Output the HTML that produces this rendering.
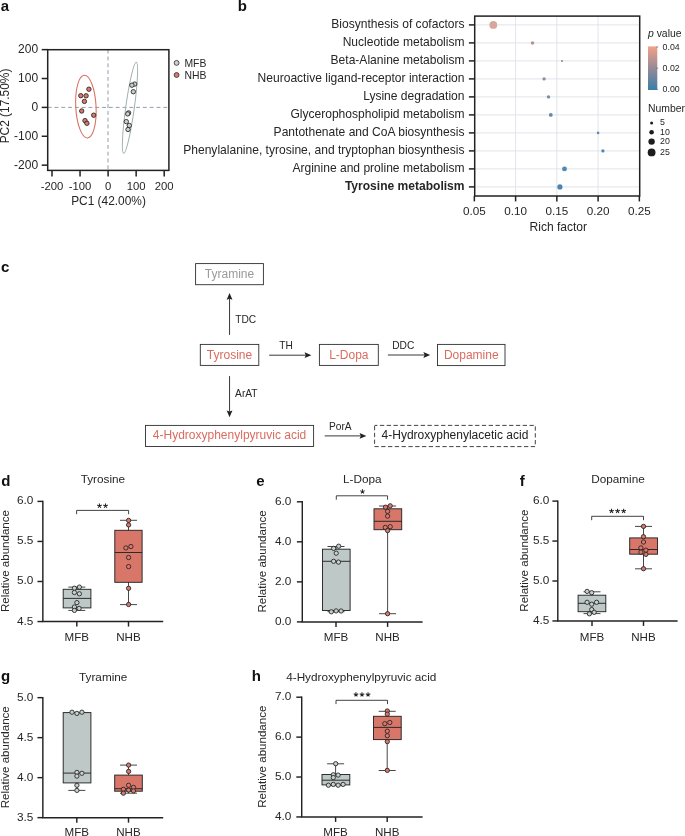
<!DOCTYPE html>
<html lang="en"><head><meta charset="utf-8"><title>Figure</title>
<style>
html,body{margin:0;padding:0;background:#fff;}
body{width:685px;height:836px;overflow:hidden;}
svg{display:block;will-change:transform;}
svg text{font-family:"Liberation Sans",sans-serif;}
</style></head>
<body>
<svg width="685" height="836" viewBox="0 0 685 836">
<text x="0.7" y="10.65" font-size="15" font-weight="bold" fill="#111">a</text>
<text x="237.75" y="10.65" font-size="15" font-weight="bold" fill="#111">b</text>
<text x="0.9" y="272.1" font-size="15" font-weight="bold" fill="#111">c</text>
<text x="1.35" y="486.1" font-size="15" font-weight="bold" fill="#111">d</text>
<text x="256.3" y="486.0" font-size="15" font-weight="bold" fill="#111">e</text>
<text x="519.85" y="485.9" font-size="15" font-weight="bold" fill="#111">f</text>
<text x="1.1" y="681.0" font-size="15" font-weight="bold" fill="#111">g</text>
<text x="251.85" y="681.0" font-size="15" font-weight="bold" fill="#111">h</text>
<line x1="47.7" y1="107.4" x2="168.9" y2="107.4" stroke="#808d9a" stroke-width="0.85" stroke-dasharray="3.9 2.9"/>
<line x1="108.0" y1="49.7" x2="108.0" y2="170.4" stroke="#808d9a" stroke-width="0.85" stroke-dasharray="3.9 2.9"/>
<ellipse cx="85.9" cy="106.6" rx="10.15" ry="31.4" transform="rotate(-3 85.9 106.6)" fill="none" stroke="#d8705f" stroke-width="1.05"/>
<ellipse cx="130.0" cy="107.8" rx="4.3" ry="46.0" transform="rotate(7.9 130 107.8)" fill="none" stroke="#a2b1ae" stroke-width="1.0"/>
<circle cx="88.9" cy="89.2" r="2.2" fill="#dc786b" stroke="#222222" stroke-width="0.85"/>
<circle cx="80.8" cy="95.7" r="2.2" fill="#dc786b" stroke="#222222" stroke-width="0.85"/>
<circle cx="86.1" cy="95.8" r="2.2" fill="#dc786b" stroke="#222222" stroke-width="0.85"/>
<circle cx="84.4" cy="101.4" r="2.2" fill="#dc786b" stroke="#222222" stroke-width="0.85"/>
<circle cx="81.7" cy="111.0" r="2.2" fill="#dc786b" stroke="#222222" stroke-width="0.85"/>
<circle cx="93.7" cy="115.2" r="2.2" fill="#dc786b" stroke="#222222" stroke-width="0.85"/>
<circle cx="85.0" cy="120.6" r="2.2" fill="#dc786b" stroke="#222222" stroke-width="0.85"/>
<circle cx="86.9" cy="123.3" r="2.2" fill="#dc786b" stroke="#222222" stroke-width="0.85"/>
<circle cx="134.7" cy="84.1" r="2.2" fill="#c6d0ce" stroke="#222222" stroke-width="0.85"/>
<circle cx="131.9" cy="85.2" r="2.2" fill="#c6d0ce" stroke="#222222" stroke-width="0.85"/>
<circle cx="133.3" cy="91.7" r="2.2" fill="#c6d0ce" stroke="#222222" stroke-width="0.85"/>
<circle cx="128.6" cy="112.9" r="2.2" fill="#c6d0ce" stroke="#222222" stroke-width="0.85"/>
<circle cx="127.7" cy="113.9" r="2.2" fill="#c6d0ce" stroke="#222222" stroke-width="0.85"/>
<circle cx="126.3" cy="121.6" r="2.2" fill="#c6d0ce" stroke="#222222" stroke-width="0.85"/>
<circle cx="129.3" cy="125.5" r="2.2" fill="#c6d0ce" stroke="#222222" stroke-width="0.85"/>
<circle cx="128.0" cy="129.5" r="2.2" fill="#c6d0ce" stroke="#222222" stroke-width="0.85"/>
<rect x="47.7" y="49.7" width="121.2" height="120.7" fill="none" stroke="#222222" stroke-width="1.5"/>
<line x1="41.7" y1="49.64000000000001" x2="47.7" y2="49.64000000000001" stroke="#222222" stroke-width="1.5"/>
<text x="38.1" y="52.9" font-size="12.0" text-anchor="end" fill="#262626">200</text>
<line x1="164.2" y1="170.4" x2="164.2" y2="176.4" stroke="#222222" stroke-width="1.5"/>
<text x="164.2" y="189.9" font-size="11.3" text-anchor="middle" fill="#262626">200</text>
<line x1="41.7" y1="78.52000000000001" x2="47.7" y2="78.52000000000001" stroke="#222222" stroke-width="1.5"/>
<text x="38.1" y="81.8" font-size="12.0" text-anchor="end" fill="#262626">100</text>
<line x1="136.15" y1="170.4" x2="136.15" y2="176.4" stroke="#222222" stroke-width="1.5"/>
<text x="136.2" y="189.9" font-size="11.3" text-anchor="middle" fill="#262626">100</text>
<line x1="41.7" y1="107.4" x2="47.7" y2="107.4" stroke="#222222" stroke-width="1.5"/>
<text x="38.1" y="110.7" font-size="12.0" text-anchor="end" fill="#262626">0</text>
<line x1="108.1" y1="170.4" x2="108.1" y2="176.4" stroke="#222222" stroke-width="1.5"/>
<text x="108.1" y="189.9" font-size="11.3" text-anchor="middle" fill="#262626">0</text>
<line x1="41.7" y1="136.28" x2="47.7" y2="136.28" stroke="#222222" stroke-width="1.5"/>
<text x="38.1" y="139.6" font-size="12.0" text-anchor="end" fill="#262626">-100</text>
<line x1="80.04999999999998" y1="170.4" x2="80.04999999999998" y2="176.4" stroke="#222222" stroke-width="1.5"/>
<text x="80.0" y="189.9" font-size="11.3" text-anchor="middle" fill="#262626">-100</text>
<line x1="41.7" y1="165.16" x2="47.7" y2="165.16" stroke="#222222" stroke-width="1.5"/>
<text x="38.1" y="168.5" font-size="12.0" text-anchor="end" fill="#262626">-200</text>
<line x1="51.999999999999986" y1="170.4" x2="51.999999999999986" y2="176.4" stroke="#222222" stroke-width="1.5"/>
<text x="52.0" y="189.9" font-size="11.3" text-anchor="middle" fill="#262626">-200</text>
<text x="108.5" y="205.3" font-size="11.9" text-anchor="middle" fill="#262626">PC1 (42.00%)</text>
<text x="9.2" y="106.0" font-size="11.9" text-anchor="middle" transform="rotate(-90 9.2 106.0)" fill="#262626">PC2 (17.50%)</text>
<circle cx="176.6" cy="62.9" r="2.45" fill="#c6d0ce" stroke="#222222" stroke-width="0.75"/>
<circle cx="176.6" cy="75.0" r="2.45" fill="#dc786b" stroke="#222222" stroke-width="0.75"/>
<text x="184.4" y="66.6" font-size="10.4" fill="#262626">MFB</text>
<text x="184.4" y="78.7" font-size="10.4" fill="#262626">NHB</text>
<line x1="474.7" y1="24.9" x2="639.7" y2="24.9" stroke="#e7e9ed" stroke-width="1.15"/>
<line x1="474.7" y1="42.9" x2="639.7" y2="42.9" stroke="#e7e9ed" stroke-width="1.15"/>
<line x1="474.7" y1="60.9" x2="639.7" y2="60.9" stroke="#e7e9ed" stroke-width="1.15"/>
<line x1="474.7" y1="78.9" x2="639.7" y2="78.9" stroke="#e7e9ed" stroke-width="1.15"/>
<line x1="474.7" y1="96.9" x2="639.7" y2="96.9" stroke="#e7e9ed" stroke-width="1.15"/>
<line x1="474.7" y1="114.9" x2="639.7" y2="114.9" stroke="#e7e9ed" stroke-width="1.15"/>
<line x1="474.7" y1="132.9" x2="639.7" y2="132.9" stroke="#e7e9ed" stroke-width="1.15"/>
<line x1="474.7" y1="150.9" x2="639.7" y2="150.9" stroke="#e7e9ed" stroke-width="1.15"/>
<line x1="474.7" y1="168.9" x2="639.7" y2="168.9" stroke="#e7e9ed" stroke-width="1.15"/>
<line x1="474.7" y1="186.9" x2="639.7" y2="186.9" stroke="#e7e9ed" stroke-width="1.15"/>
<line x1="515.6" y1="16.1" x2="515.6" y2="196.0" stroke="#dadde4" stroke-width="0.8"/>
<line x1="556.85" y1="16.1" x2="556.85" y2="196.0" stroke="#dadde4" stroke-width="0.8"/>
<line x1="598.1" y1="16.1" x2="598.1" y2="196.0" stroke="#dadde4" stroke-width="0.8"/>
<circle cx="493.3" cy="24.9" r="3.9" fill="#d8a79b"/>
<circle cx="532.5" cy="42.9" r="1.75" fill="#b8928c"/>
<circle cx="562.0" cy="60.9" r="1.0" fill="#9a8088"/>
<circle cx="544.1" cy="78.9" r="1.7" fill="#8a8fa6"/>
<circle cx="548.5" cy="96.9" r="1.7" fill="#7b8aa5"/>
<circle cx="550.8" cy="114.9" r="1.9" fill="#6888a8"/>
<circle cx="598.1" cy="132.9" r="1.3" fill="#5a8cb5"/>
<circle cx="602.9" cy="150.9" r="1.6" fill="#4c88b3"/>
<circle cx="564.5" cy="168.9" r="2.45" fill="#5088ae"/>
<circle cx="559.9" cy="186.9" r="2.6" fill="#4c85aa"/>
<rect x="474.7" y="16.1" width="165.00000000000006" height="179.9" fill="none" stroke="#222222" stroke-width="1.5"/>
<line x1="468.9" y1="24.9" x2="474.7" y2="24.9" stroke="#222222" stroke-width="1.5"/>
<text x="464.5" y="28.35" font-size="12.05" text-anchor="end" fill="#262626">Biosynthesis of cofactors</text>
<line x1="468.9" y1="42.9" x2="474.7" y2="42.9" stroke="#222222" stroke-width="1.5"/>
<text x="464.5" y="46.35" font-size="12.05" text-anchor="end" fill="#262626">Nucleotide metabolism</text>
<line x1="468.9" y1="60.9" x2="474.7" y2="60.9" stroke="#222222" stroke-width="1.5"/>
<text x="464.5" y="64.35" font-size="12.05" text-anchor="end" fill="#262626">Beta-Alanine metabolism</text>
<line x1="468.9" y1="78.9" x2="474.7" y2="78.9" stroke="#222222" stroke-width="1.5"/>
<text x="464.5" y="82.35" font-size="12.05" text-anchor="end" fill="#262626">Neuroactive ligand-receptor interaction</text>
<line x1="468.9" y1="96.9" x2="474.7" y2="96.9" stroke="#222222" stroke-width="1.5"/>
<text x="464.5" y="100.35" font-size="12.05" text-anchor="end" fill="#262626">Lysine degradation</text>
<line x1="468.9" y1="114.9" x2="474.7" y2="114.9" stroke="#222222" stroke-width="1.5"/>
<text x="464.5" y="118.35" font-size="12.05" text-anchor="end" fill="#262626">Glycerophospholipid metabolism</text>
<line x1="468.9" y1="132.9" x2="474.7" y2="132.9" stroke="#222222" stroke-width="1.5"/>
<text x="464.5" y="136.35" font-size="12.05" text-anchor="end" fill="#262626">Pantothenate and CoA biosynthesis</text>
<line x1="468.9" y1="150.9" x2="474.7" y2="150.9" stroke="#222222" stroke-width="1.5"/>
<text x="464.5" y="154.35" font-size="12.05" text-anchor="end" fill="#262626">Phenylalanine, tyrosine, and tryptophan biosynthesis</text>
<line x1="468.9" y1="168.9" x2="474.7" y2="168.9" stroke="#222222" stroke-width="1.5"/>
<text x="464.5" y="172.35" font-size="12.05" text-anchor="end" fill="#262626">Arginine and proline metabolism</text>
<line x1="468.9" y1="186.9" x2="474.7" y2="186.9" stroke="#222222" stroke-width="1.5"/>
<text x="464.5" y="190.35" font-size="12.05" text-anchor="end" font-weight="bold" fill="#262626">Tyrosine metabolism</text>
<line x1="474.35" y1="196.0" x2="474.35" y2="201.4" stroke="#222222" stroke-width="1.5"/>
<text x="474.35" y="214.8" font-size="11.7" text-anchor="middle" fill="#262626">0.05</text>
<line x1="515.6" y1="196.0" x2="515.6" y2="201.4" stroke="#222222" stroke-width="1.5"/>
<text x="515.6" y="214.8" font-size="11.7" text-anchor="middle" fill="#262626">0.10</text>
<line x1="556.85" y1="196.0" x2="556.85" y2="201.4" stroke="#222222" stroke-width="1.5"/>
<text x="556.85" y="214.8" font-size="11.7" text-anchor="middle" fill="#262626">0.15</text>
<line x1="598.1" y1="196.0" x2="598.1" y2="201.4" stroke="#222222" stroke-width="1.5"/>
<text x="598.1" y="214.8" font-size="11.7" text-anchor="middle" fill="#262626">0.20</text>
<line x1="639.35" y1="196.0" x2="639.35" y2="201.4" stroke="#222222" stroke-width="1.5"/>
<text x="639.35" y="214.8" font-size="11.7" text-anchor="middle" fill="#262626">0.25</text>
<text x="558.3" y="230.9" font-size="12.05" text-anchor="middle" fill="#262626">Rich factor</text>
<defs><linearGradient id="pg" x1="0" y1="0" x2="0" y2="1"><stop offset="0" stop-color="#f3a189"/><stop offset="0.5" stop-color="#968a97"/><stop offset="1" stop-color="#3a7ea8"/></linearGradient></defs>
<text x="648" y="36.5" font-size="10.4" fill="#262626"><tspan font-style="italic">p</tspan> value</text>
<rect x="648" y="46.4" width="9.3" height="43.6" fill="url(#pg)"/>
<line x1="656.3" y1="47.0" x2="658.3" y2="47.0" stroke="#555" stroke-width="0.6"/>
<text x="662.6" y="49.9" font-size="8.8" fill="#262626">0.04</text>
<line x1="656.3" y1="68.2" x2="658.3" y2="68.2" stroke="#555" stroke-width="0.6"/>
<text x="662.6" y="71.1" font-size="8.8" fill="#262626">0.02</text>
<line x1="656.3" y1="89.4" x2="658.3" y2="89.4" stroke="#3a7ea8" stroke-width="0.6"/>
<text x="662.6" y="92.3" font-size="8.8" fill="#262626">0.00</text>
<text x="648" y="111.6" font-size="10.4" fill="#262626">Number</text>
<circle cx="651.6" cy="122.9" r="1.5" fill="#1c1c1c"/>
<text x="660.0" y="125.3" font-size="8.8" fill="#262626">5</text>
<circle cx="651.6" cy="132.3" r="2.3" fill="#1c1c1c"/>
<text x="660.0" y="134.7" font-size="8.8" fill="#262626">10</text>
<circle cx="651.6" cy="141.6" r="3.2" fill="#1c1c1c"/>
<text x="660.0" y="144.0" font-size="8.8" fill="#262626">20</text>
<circle cx="651.6" cy="152.4" r="3.9" fill="#1c1c1c"/>
<text x="660.0" y="154.8" font-size="8.8" fill="#262626">25</text>
<rect x="195.6" y="263.6" width="67.8" height="21.1" fill="#fff" stroke="#2e2e2e" stroke-width="0.9"/>
<text x="229.5" y="278.4" font-size="12" text-anchor="middle" fill="#9a9a9a">Tyramine</text>
<rect x="200.3" y="344.4" width="58.5" height="21.0" fill="#fff" stroke="#2e2e2e" stroke-width="0.9"/>
<text x="229.55" y="358.5" font-size="12" text-anchor="middle" fill="#d96c5f">Tyrosine</text>
<rect x="319.4" y="344.4" width="58.9" height="21.0" fill="#fff" stroke="#2e2e2e" stroke-width="0.9"/>
<text x="348.85" y="358.5" font-size="12" text-anchor="middle" fill="#d96c5f">L-Dopa</text>
<rect x="437.5" y="344.4" width="67.5" height="21.2" fill="#fff" stroke="#2e2e2e" stroke-width="0.9"/>
<text x="471.25" y="358.5" font-size="12" text-anchor="middle" fill="#d96c5f">Dopamine</text>
<rect x="145.5" y="425.4" width="168.1" height="21.1" fill="#fff" stroke="#2e2e2e" stroke-width="0.9"/>
<text x="229.55" y="438.8" font-size="12" text-anchor="middle" fill="#d96c5f">4-Hydroxyphenylpyruvic acid</text>
<rect x="374.6" y="425.4" width="160.7" height="21.2" fill="#fff" stroke="#2e2e2e" stroke-width="0.9" stroke-dasharray="4.3 2.5" stroke-dashoffset="1.5"/>
<text x="454.95" y="438.8" font-size="12" text-anchor="middle" fill="#222">4-Hydroxyphenylacetic acid</text>
<line x1="229.55" y1="334.9" x2="229.55" y2="298.7" stroke="#222" stroke-width="0.9"/>
<polygon points="229.55,293.0 232.45,299.8 229.55,298.7 226.65,299.8" fill="#222"/>
<line x1="229.55" y1="376.1" x2="229.55" y2="411.6" stroke="#222" stroke-width="0.9"/>
<polygon points="229.55,417.3 226.65,410.5 229.55,411.6 232.45,410.5" fill="#222"/>
<line x1="269.2" y1="355.2" x2="305.7" y2="355.2" stroke="#222" stroke-width="0.9"/>
<polygon points="311.4,355.2 304.6,358.1 305.7,355.2 304.6,352.3" fill="#222"/>
<line x1="387.9" y1="355.0" x2="424.5" y2="355.0" stroke="#222" stroke-width="0.9"/>
<polygon points="430.2,355.0 423.4,357.9 424.5,355.0 423.4,352.1" fill="#222"/>
<line x1="324.7" y1="435.9" x2="360.7" y2="435.9" stroke="#222" stroke-width="0.9"/>
<polygon points="366.4,435.9 359.6,438.8 360.7,435.9 359.6,433.0" fill="#222"/>
<text x="235.2" y="322.7" font-size="10.2" fill="#262626">TDC</text>
<text x="235.1" y="396.8" font-size="10.2" fill="#262626">ArAT</text>
<text x="279.2" y="349.0" font-size="10.2" fill="#262626">TH</text>
<text x="392.2" y="349.0" font-size="10.2" fill="#262626">DDC</text>
<text x="329.0" y="429.8" font-size="10.2" fill="#262626">PorA</text>
<line x1="42.85" y1="500.67" x2="42.85" y2="621.55" stroke="#222222" stroke-width="1.45"/>
<line x1="42.12" y1="621.55" x2="163.2" y2="621.55" stroke="#222222" stroke-width="1.45"/>
<line x1="37.45" y1="501.4" x2="42.85" y2="501.4" stroke="#222222" stroke-width="1.45"/>
<text x="33.3" y="504.35" font-size="11.8" text-anchor="end" fill="#262626">6.0</text>
<line x1="37.45" y1="541.45" x2="42.85" y2="541.45" stroke="#222222" stroke-width="1.45"/>
<text x="33.3" y="544.4" font-size="11.8" text-anchor="end" fill="#262626">5.5</text>
<line x1="37.45" y1="581.5" x2="42.85" y2="581.5" stroke="#222222" stroke-width="1.45"/>
<text x="33.3" y="584.45" font-size="11.8" text-anchor="end" fill="#262626">5.0</text>
<line x1="37.45" y1="621.55" x2="42.85" y2="621.55" stroke="#222222" stroke-width="1.45"/>
<text x="33.3" y="624.5" font-size="11.8" text-anchor="end" fill="#262626">4.5</text>
<line x1="76.8" y1="621.55" x2="76.8" y2="626.55" stroke="#222222" stroke-width="1.45"/>
<text x="76.8" y="641.3" font-size="11.6" text-anchor="middle" fill="#262626">MFB</text>
<line x1="128.5" y1="621.55" x2="128.5" y2="626.55" stroke="#222222" stroke-width="1.45"/>
<text x="128.5" y="641.3" font-size="11.6" text-anchor="middle" fill="#262626">NHB</text>
<text x="9.45" y="561.07" font-size="11.55" text-anchor="middle" transform="rotate(-90 9.45 561.07)" fill="#262626">Relative abundance</text>
<text x="102.9" y="482.9" font-size="11.75" text-anchor="middle" fill="#262626">Tyrosine</text>
<line x1="76.8" y1="587.1" x2="76.8" y2="610.4" stroke="#262626" stroke-width="0.85"/>
<line x1="68.3" y1="587.1" x2="85.3" y2="587.1" stroke="#262626" stroke-width="0.85"/>
<line x1="68.3" y1="610.4" x2="85.3" y2="610.4" stroke="#262626" stroke-width="0.85"/>
<rect x="63.2" y="589.3" width="27.7" height="18.6" fill="#bec8c6" stroke="#262626" stroke-width="0.95"/>
<line x1="63.2" y1="598.4" x2="90.9" y2="598.4" stroke="#262626" stroke-width="0.95"/>
<circle cx="74.4" cy="588.2" r="2.15" fill="#c6d0ce" stroke="#262626" stroke-width="0.88"/>
<circle cx="79.4" cy="587.1" r="2.15" fill="#c6d0ce" stroke="#262626" stroke-width="0.88"/>
<circle cx="74.4" cy="592.5" r="2.15" fill="#c6d0ce" stroke="#262626" stroke-width="0.88"/>
<circle cx="79.4" cy="593.8" r="2.15" fill="#c6d0ce" stroke="#262626" stroke-width="0.88"/>
<circle cx="76.9" cy="602.6" r="2.15" fill="#c6d0ce" stroke="#262626" stroke-width="0.88"/>
<circle cx="74.4" cy="607.0" r="2.15" fill="#c6d0ce" stroke="#262626" stroke-width="0.88"/>
<circle cx="79.1" cy="608.4" r="2.15" fill="#c6d0ce" stroke="#262626" stroke-width="0.88"/>
<circle cx="74.4" cy="610.4" r="2.15" fill="#c6d0ce" stroke="#262626" stroke-width="0.88"/>
<line x1="128.5" y1="520.3" x2="128.5" y2="604.6" stroke="#262626" stroke-width="0.85"/>
<line x1="120.0" y1="520.3" x2="137.0" y2="520.3" stroke="#262626" stroke-width="0.85"/>
<line x1="120.0" y1="604.6" x2="137.0" y2="604.6" stroke="#262626" stroke-width="0.85"/>
<rect x="114.8" y="530.3" width="27.3" height="52.0" fill="#d8766a" stroke="#262626" stroke-width="0.95"/>
<line x1="114.8" y1="552.5" x2="142.1" y2="552.5" stroke="#262626" stroke-width="0.95"/>
<circle cx="128.6" cy="520.4" r="2.15" fill="#dc786b" stroke="#262626" stroke-width="0.88"/>
<circle cx="128.6" cy="524.9" r="2.15" fill="#dc786b" stroke="#262626" stroke-width="0.88"/>
<circle cx="125.9" cy="547.9" r="2.15" fill="#dc786b" stroke="#262626" stroke-width="0.88"/>
<circle cx="130.9" cy="546.5" r="2.15" fill="#dc786b" stroke="#262626" stroke-width="0.88"/>
<circle cx="128.6" cy="557.5" r="2.15" fill="#dc786b" stroke="#262626" stroke-width="0.88"/>
<circle cx="128.6" cy="566.6" r="2.15" fill="#dc786b" stroke="#262626" stroke-width="0.88"/>
<circle cx="128.6" cy="588.3" r="2.15" fill="#dc786b" stroke="#262626" stroke-width="0.88"/>
<circle cx="128.6" cy="604.5" r="2.15" fill="#dc786b" stroke="#262626" stroke-width="0.88"/>
<polyline points="76.6,514.2 76.6,510.4 128.6,510.4 128.6,514.2" fill="none" stroke="#2e2e2e" stroke-width="0.9"/>
<path d="M99.15,505.95 L98.89,503.5 L100.05,503.5 L99.79,505.95Z M99.28,505.58 L101.53,504.57 L101.88,505.68 L99.47,506.19Z M99.67,505.58 L101.32,507.41 L100.38,508.09 L99.15,505.96Z M99.79,505.96 L98.56,508.09 L97.62,507.41 L99.27,505.58Z M99.47,506.19 L97.06,505.68 L97.41,504.57 L99.66,505.58Z" fill="#222"/>
<circle cx="99.47" cy="505.85" r="0.8" fill="#222"/>
<path d="M105.21,505.95 L104.95,503.5 L106.11,503.5 L105.85,505.95Z M105.34,505.58 L107.59,504.57 L107.94,505.68 L105.53,506.19Z M105.73,505.58 L107.38,507.41 L106.44,508.09 L105.21,505.96Z M105.85,505.96 L104.62,508.09 L103.68,507.41 L105.33,505.58Z M105.53,506.19 L103.12,505.68 L103.47,504.57 L105.72,505.58Z" fill="#222"/>
<circle cx="105.53" cy="505.85" r="0.8" fill="#222"/>
<line x1="302.3" y1="501.07" x2="302.3" y2="621.9" stroke="#222222" stroke-width="1.45"/>
<line x1="301.57" y1="621.9" x2="422.6" y2="621.9" stroke="#222222" stroke-width="1.45"/>
<line x1="296.9" y1="501.8" x2="302.3" y2="501.8" stroke="#222222" stroke-width="1.45"/>
<text x="291.35" y="504.75" font-size="11.8" text-anchor="end" fill="#262626">6.0</text>
<line x1="296.9" y1="541.83" x2="302.3" y2="541.83" stroke="#222222" stroke-width="1.45"/>
<text x="291.35" y="544.78" font-size="11.8" text-anchor="end" fill="#262626">4.0</text>
<line x1="296.9" y1="581.87" x2="302.3" y2="581.87" stroke="#222222" stroke-width="1.45"/>
<text x="291.35" y="584.82" font-size="11.8" text-anchor="end" fill="#262626">2.0</text>
<line x1="296.9" y1="621.9" x2="302.3" y2="621.9" stroke="#222222" stroke-width="1.45"/>
<text x="291.35" y="624.85" font-size="11.8" text-anchor="end" fill="#262626">0.0</text>
<line x1="336.0" y1="621.9" x2="336.0" y2="626.9" stroke="#222222" stroke-width="1.45"/>
<text x="336.0" y="641.3" font-size="11.6" text-anchor="middle" fill="#262626">MFB</text>
<line x1="387.6" y1="621.9" x2="387.6" y2="626.9" stroke="#222222" stroke-width="1.45"/>
<text x="387.6" y="641.3" font-size="11.6" text-anchor="middle" fill="#262626">NHB</text>
<text x="266.4" y="561.45" font-size="11.55" text-anchor="middle" transform="rotate(-90 266.4 561.45)" fill="#262626">Relative abundance</text>
<text x="362.3" y="482.9" font-size="11.75" text-anchor="middle" fill="#262626">L-Dopa</text>
<line x1="336.0" y1="546.5" x2="336.0" y2="611.7" stroke="#262626" stroke-width="0.85"/>
<line x1="327.5" y1="546.5" x2="344.5" y2="546.5" stroke="#262626" stroke-width="0.85"/>
<line x1="327.5" y1="611.7" x2="344.5" y2="611.7" stroke="#262626" stroke-width="0.85"/>
<rect x="322.5" y="549.2" width="27.6" height="61.3" fill="#bec8c6" stroke="#262626" stroke-width="0.95"/>
<line x1="322.5" y1="561.3" x2="350.1" y2="561.3" stroke="#262626" stroke-width="0.95"/>
<circle cx="333.6" cy="548.4" r="2.15" fill="#c6d0ce" stroke="#262626" stroke-width="0.88"/>
<circle cx="338.7" cy="546.2" r="2.15" fill="#c6d0ce" stroke="#262626" stroke-width="0.88"/>
<circle cx="336.2" cy="553.2" r="2.15" fill="#c6d0ce" stroke="#262626" stroke-width="0.88"/>
<circle cx="333.6" cy="561.3" r="2.15" fill="#c6d0ce" stroke="#262626" stroke-width="0.88"/>
<circle cx="338.5" cy="562.1" r="2.15" fill="#c6d0ce" stroke="#262626" stroke-width="0.88"/>
<circle cx="331.3" cy="611.8" r="2.15" fill="#c6d0ce" stroke="#262626" stroke-width="0.88"/>
<circle cx="336.1" cy="610.9" r="2.15" fill="#c6d0ce" stroke="#262626" stroke-width="0.88"/>
<circle cx="341.1" cy="611.0" r="2.15" fill="#c6d0ce" stroke="#262626" stroke-width="0.88"/>
<line x1="387.6" y1="506.0" x2="387.6" y2="613.7" stroke="#262626" stroke-width="0.85"/>
<line x1="379.1" y1="506.0" x2="396.1" y2="506.0" stroke="#262626" stroke-width="0.85"/>
<line x1="379.1" y1="613.7" x2="396.1" y2="613.7" stroke="#262626" stroke-width="0.85"/>
<rect x="374.0" y="508.8" width="27.7" height="20.9" fill="#d8766a" stroke="#262626" stroke-width="0.95"/>
<line x1="374.0" y1="521.3" x2="401.7" y2="521.3" stroke="#262626" stroke-width="0.95"/>
<circle cx="385.5" cy="507.2" r="2.15" fill="#dc786b" stroke="#262626" stroke-width="0.88"/>
<circle cx="390.2" cy="505.8" r="2.15" fill="#dc786b" stroke="#262626" stroke-width="0.88"/>
<circle cx="387.6" cy="511.4" r="2.15" fill="#dc786b" stroke="#262626" stroke-width="0.88"/>
<circle cx="387.6" cy="516.1" r="2.15" fill="#dc786b" stroke="#262626" stroke-width="0.88"/>
<circle cx="385.3" cy="527.4" r="2.15" fill="#dc786b" stroke="#262626" stroke-width="0.88"/>
<circle cx="390.2" cy="526.7" r="2.15" fill="#dc786b" stroke="#262626" stroke-width="0.88"/>
<circle cx="387.6" cy="530.6" r="2.15" fill="#dc786b" stroke="#262626" stroke-width="0.88"/>
<circle cx="387.6" cy="613.7" r="2.15" fill="#dc786b" stroke="#262626" stroke-width="0.88"/>
<polyline points="336.3,499.7 336.3,495.8 387.55,495.8 387.55,499.7" fill="none" stroke="#2e2e2e" stroke-width="0.9"/>
<path d="M362.18,491.6 L361.92,489.15 L363.08,489.15 L362.82,491.6Z M362.31,491.23 L364.56,490.22 L364.91,491.33 L362.5,491.84Z M362.7,491.23 L364.35,493.06 L363.41,493.74 L362.18,491.61Z M362.82,491.61 L361.59,493.74 L360.65,493.06 L362.3,491.23Z M362.5,491.84 L360.09,491.33 L360.44,490.22 L362.69,491.23Z" fill="#222"/>
<circle cx="362.5" cy="491.5" r="0.8" fill="#222"/>
<line x1="557.8" y1="500.38" x2="557.8" y2="620.95" stroke="#222222" stroke-width="1.45"/>
<line x1="557.07" y1="620.95" x2="677.6" y2="620.95" stroke="#222222" stroke-width="1.45"/>
<line x1="552.4" y1="501.1" x2="557.8" y2="501.1" stroke="#222222" stroke-width="1.45"/>
<text x="549.45" y="504.05" font-size="11.8" text-anchor="end" fill="#262626">6.0</text>
<line x1="552.4" y1="541.05" x2="557.8" y2="541.05" stroke="#222222" stroke-width="1.45"/>
<text x="549.45" y="544.0" font-size="11.8" text-anchor="end" fill="#262626">5.5</text>
<line x1="552.4" y1="581.0" x2="557.8" y2="581.0" stroke="#222222" stroke-width="1.45"/>
<text x="549.45" y="583.95" font-size="11.8" text-anchor="end" fill="#262626">5.0</text>
<line x1="552.4" y1="620.95" x2="557.8" y2="620.95" stroke="#222222" stroke-width="1.45"/>
<text x="549.45" y="623.9" font-size="11.8" text-anchor="end" fill="#262626">4.5</text>
<line x1="592.0" y1="620.95" x2="592.0" y2="625.95" stroke="#222222" stroke-width="1.45"/>
<text x="592.0" y="641.3" font-size="11.6" text-anchor="middle" fill="#262626">MFB</text>
<line x1="643.5" y1="620.95" x2="643.5" y2="625.95" stroke="#222222" stroke-width="1.45"/>
<text x="643.5" y="641.3" font-size="11.6" text-anchor="middle" fill="#262626">NHB</text>
<text x="528.4" y="560.63" font-size="11.55" text-anchor="middle" transform="rotate(-90 528.4 560.63)" fill="#262626">Relative abundance</text>
<text x="618.0" y="482.9" font-size="11.75" text-anchor="middle" fill="#262626">Dopamine</text>
<line x1="592.0" y1="591.8" x2="592.0" y2="613.6" stroke="#262626" stroke-width="0.85"/>
<line x1="583.5" y1="591.8" x2="600.5" y2="591.8" stroke="#262626" stroke-width="0.85"/>
<line x1="583.5" y1="613.6" x2="600.5" y2="613.6" stroke="#262626" stroke-width="0.85"/>
<rect x="578.1" y="595.2" width="27.7" height="16.5" fill="#bec8c6" stroke="#262626" stroke-width="0.95"/>
<line x1="578.1" y1="603.3" x2="605.8" y2="603.3" stroke="#262626" stroke-width="0.95"/>
<circle cx="587.1" cy="591.4" r="2.15" fill="#c6d0ce" stroke="#262626" stroke-width="0.88"/>
<circle cx="591.7" cy="592.7" r="2.15" fill="#c6d0ce" stroke="#262626" stroke-width="0.88"/>
<circle cx="587.1" cy="602.3" r="2.15" fill="#c6d0ce" stroke="#262626" stroke-width="0.88"/>
<circle cx="591.7" cy="604.2" r="2.15" fill="#c6d0ce" stroke="#262626" stroke-width="0.88"/>
<circle cx="596.6" cy="602.3" r="2.15" fill="#c6d0ce" stroke="#262626" stroke-width="0.88"/>
<circle cx="591.7" cy="609.6" r="2.15" fill="#c6d0ce" stroke="#262626" stroke-width="0.88"/>
<circle cx="589.4" cy="613.8" r="2.15" fill="#c6d0ce" stroke="#262626" stroke-width="0.88"/>
<circle cx="594.2" cy="612.3" r="2.15" fill="#c6d0ce" stroke="#262626" stroke-width="0.88"/>
<line x1="643.5" y1="526.4" x2="643.5" y2="568.8" stroke="#262626" stroke-width="0.85"/>
<line x1="635.0" y1="526.4" x2="652.0" y2="526.4" stroke="#262626" stroke-width="0.85"/>
<line x1="635.0" y1="568.8" x2="652.0" y2="568.8" stroke="#262626" stroke-width="0.85"/>
<rect x="629.7" y="537.9" width="27.8" height="16.3" fill="#d8766a" stroke="#262626" stroke-width="0.95"/>
<line x1="629.7" y1="549.5" x2="657.5" y2="549.5" stroke="#262626" stroke-width="0.95"/>
<circle cx="643.5" cy="526.4" r="2.15" fill="#dc786b" stroke="#262626" stroke-width="0.88"/>
<circle cx="643.5" cy="536.7" r="2.15" fill="#dc786b" stroke="#262626" stroke-width="0.88"/>
<circle cx="643.5" cy="542.0" r="2.15" fill="#dc786b" stroke="#262626" stroke-width="0.88"/>
<circle cx="640.9" cy="547.9" r="2.15" fill="#dc786b" stroke="#262626" stroke-width="0.88"/>
<circle cx="645.9" cy="550.2" r="2.15" fill="#dc786b" stroke="#262626" stroke-width="0.88"/>
<circle cx="640.9" cy="552.1" r="2.15" fill="#dc786b" stroke="#262626" stroke-width="0.88"/>
<circle cx="645.9" cy="554.4" r="2.15" fill="#dc786b" stroke="#262626" stroke-width="0.88"/>
<circle cx="643.5" cy="568.7" r="2.15" fill="#dc786b" stroke="#262626" stroke-width="0.88"/>
<polyline points="591.7,520.2 591.7,516.3 643.5,516.3 643.5,520.2" fill="none" stroke="#2e2e2e" stroke-width="0.9"/>
<path d="M611.23,511.15 L610.97,508.7 L612.13,508.7 L611.87,511.15Z M611.36,510.78 L613.61,509.77 L613.96,510.88 L611.55,511.39Z M611.75,510.78 L613.4,512.61 L612.46,513.29 L611.23,511.16Z M611.87,511.16 L610.64,513.29 L609.7,512.61 L611.35,510.78Z M611.55,511.39 L609.14,510.88 L609.49,509.77 L611.74,510.78Z" fill="#222"/>
<circle cx="611.55" cy="511.05" r="0.8" fill="#222"/>
<path d="M617.28,511.15 L617.02,508.7 L618.18,508.7 L617.92,511.15Z M617.41,510.78 L619.66,509.77 L620.01,510.88 L617.6,511.39Z M617.8,510.78 L619.45,512.61 L618.51,513.29 L617.28,511.16Z M617.92,511.16 L616.69,513.29 L615.75,512.61 L617.4,510.78Z M617.6,511.39 L615.19,510.88 L615.54,509.77 L617.79,510.78Z" fill="#222"/>
<circle cx="617.6" cy="511.05" r="0.8" fill="#222"/>
<path d="M623.33,511.15 L623.07,508.7 L624.23,508.7 L623.97,511.15Z M623.46,510.78 L625.71,509.77 L626.06,510.88 L623.65,511.39Z M623.85,510.78 L625.5,512.61 L624.56,513.29 L623.33,511.16Z M623.97,511.16 L622.74,513.29 L621.8,512.61 L623.45,510.78Z M623.65,511.39 L621.24,510.88 L621.59,509.77 L623.84,510.78Z" fill="#222"/>
<circle cx="623.65" cy="511.05" r="0.8" fill="#222"/>
<line x1="42.85" y1="696.92" x2="42.85" y2="817.65" stroke="#222222" stroke-width="1.45"/>
<line x1="42.12" y1="817.65" x2="163.2" y2="817.65" stroke="#222222" stroke-width="1.45"/>
<line x1="37.45" y1="697.65" x2="42.85" y2="697.65" stroke="#222222" stroke-width="1.45"/>
<text x="33.3" y="700.6" font-size="11.8" text-anchor="end" fill="#262626">5.0</text>
<line x1="37.45" y1="737.65" x2="42.85" y2="737.65" stroke="#222222" stroke-width="1.45"/>
<text x="33.3" y="740.6" font-size="11.8" text-anchor="end" fill="#262626">4.5</text>
<line x1="37.45" y1="777.65" x2="42.85" y2="777.65" stroke="#222222" stroke-width="1.45"/>
<text x="33.3" y="780.6" font-size="11.8" text-anchor="end" fill="#262626">4.0</text>
<line x1="37.45" y1="817.65" x2="42.85" y2="817.65" stroke="#222222" stroke-width="1.45"/>
<text x="33.3" y="820.6" font-size="11.8" text-anchor="end" fill="#262626">3.5</text>
<line x1="76.8" y1="817.65" x2="76.8" y2="822.65" stroke="#222222" stroke-width="1.45"/>
<text x="76.8" y="836.0" font-size="11.6" text-anchor="middle" fill="#262626">MFB</text>
<line x1="128.5" y1="817.65" x2="128.5" y2="822.65" stroke="#222222" stroke-width="1.45"/>
<text x="128.5" y="836.0" font-size="11.6" text-anchor="middle" fill="#262626">NHB</text>
<text x="9.45" y="757.25" font-size="11.55" text-anchor="middle" transform="rotate(-90 9.45 757.25)" fill="#262626">Relative abundance</text>
<text x="103.2" y="680.6" font-size="11.75" text-anchor="middle" fill="#262626">Tyramine</text>
<line x1="76.8" y1="712.6" x2="76.8" y2="790.4" stroke="#262626" stroke-width="0.85"/>
<line x1="68.3" y1="712.6" x2="85.3" y2="712.6" stroke="#262626" stroke-width="0.85"/>
<line x1="68.3" y1="790.4" x2="85.3" y2="790.4" stroke="#262626" stroke-width="0.85"/>
<rect x="63.2" y="712.6" width="27.7" height="70.3" fill="#bec8c6" stroke="#262626" stroke-width="0.95"/>
<line x1="63.2" y1="773.1" x2="90.9" y2="773.1" stroke="#262626" stroke-width="0.95"/>
<circle cx="72.0" cy="712.2" r="2.15" fill="#c6d0ce" stroke="#262626" stroke-width="0.88"/>
<circle cx="76.9" cy="713.4" r="2.15" fill="#c6d0ce" stroke="#262626" stroke-width="0.88"/>
<circle cx="81.9" cy="712.2" r="2.15" fill="#c6d0ce" stroke="#262626" stroke-width="0.88"/>
<circle cx="76.9" cy="772.4" r="2.15" fill="#c6d0ce" stroke="#262626" stroke-width="0.88"/>
<circle cx="81.9" cy="773.3" r="2.15" fill="#c6d0ce" stroke="#262626" stroke-width="0.88"/>
<circle cx="76.9" cy="776.1" r="2.15" fill="#c6d0ce" stroke="#262626" stroke-width="0.88"/>
<circle cx="76.9" cy="785.3" r="2.15" fill="#c6d0ce" stroke="#262626" stroke-width="0.88"/>
<circle cx="76.9" cy="790.4" r="2.15" fill="#c6d0ce" stroke="#262626" stroke-width="0.88"/>
<line x1="128.5" y1="765.1" x2="128.5" y2="793.2" stroke="#262626" stroke-width="0.85"/>
<line x1="120.0" y1="765.1" x2="137.0" y2="765.1" stroke="#262626" stroke-width="0.85"/>
<line x1="120.0" y1="793.2" x2="137.0" y2="793.2" stroke="#262626" stroke-width="0.85"/>
<rect x="114.7" y="775.1" width="27.6" height="16.1" fill="#d8766a" stroke="#262626" stroke-width="0.95"/>
<line x1="114.7" y1="788.7" x2="142.3" y2="788.7" stroke="#262626" stroke-width="0.95"/>
<circle cx="128.6" cy="765.1" r="2.15" fill="#dc786b" stroke="#262626" stroke-width="0.88"/>
<circle cx="128.6" cy="771.4" r="2.15" fill="#dc786b" stroke="#262626" stroke-width="0.88"/>
<circle cx="128.6" cy="785.3" r="2.15" fill="#dc786b" stroke="#262626" stroke-width="0.88"/>
<circle cx="133.5" cy="787.4" r="2.15" fill="#dc786b" stroke="#262626" stroke-width="0.88"/>
<circle cx="123.4" cy="789.3" r="2.15" fill="#dc786b" stroke="#262626" stroke-width="0.88"/>
<circle cx="128.6" cy="790.1" r="2.15" fill="#dc786b" stroke="#262626" stroke-width="0.88"/>
<circle cx="133.5" cy="790.9" r="2.15" fill="#dc786b" stroke="#262626" stroke-width="0.88"/>
<circle cx="123.4" cy="793.2" r="2.15" fill="#dc786b" stroke="#262626" stroke-width="0.88"/>
<line x1="301.7" y1="696.48" x2="301.7" y2="816.95" stroke="#222222" stroke-width="1.45"/>
<line x1="300.97" y1="816.95" x2="422.6" y2="816.95" stroke="#222222" stroke-width="1.45"/>
<line x1="296.3" y1="697.2" x2="301.7" y2="697.2" stroke="#222222" stroke-width="1.45"/>
<text x="291.35" y="700.15" font-size="11.8" text-anchor="end" fill="#262626">7.0</text>
<line x1="296.3" y1="737.12" x2="301.7" y2="737.12" stroke="#222222" stroke-width="1.45"/>
<text x="291.35" y="740.07" font-size="11.8" text-anchor="end" fill="#262626">6.0</text>
<line x1="296.3" y1="777.03" x2="301.7" y2="777.03" stroke="#222222" stroke-width="1.45"/>
<text x="291.35" y="779.98" font-size="11.8" text-anchor="end" fill="#262626">5.0</text>
<line x1="296.3" y1="816.95" x2="301.7" y2="816.95" stroke="#222222" stroke-width="1.45"/>
<text x="291.35" y="819.9" font-size="11.8" text-anchor="end" fill="#262626">4.0</text>
<line x1="335.6" y1="816.95" x2="335.6" y2="821.95" stroke="#222222" stroke-width="1.45"/>
<text x="335.6" y="835.7" font-size="11.6" text-anchor="middle" fill="#262626">MFB</text>
<line x1="387.2" y1="816.95" x2="387.2" y2="821.95" stroke="#222222" stroke-width="1.45"/>
<text x="387.2" y="835.7" font-size="11.6" text-anchor="middle" fill="#262626">NHB</text>
<text x="266.4" y="756.68" font-size="11.55" text-anchor="middle" transform="rotate(-90 266.4 756.68)" fill="#262626">Relative abundance</text>
<text x="361.3" y="680.6" font-size="11.75" text-anchor="middle" fill="#262626">4-Hydroxyphenylpyruvic acid</text>
<line x1="335.6" y1="763.8" x2="335.6" y2="785.6" stroke="#262626" stroke-width="0.85"/>
<line x1="327.1" y1="763.8" x2="344.1" y2="763.8" stroke="#262626" stroke-width="0.85"/>
<line x1="327.1" y1="785.6" x2="344.1" y2="785.6" stroke="#262626" stroke-width="0.85"/>
<rect x="322.0" y="774.5" width="27.8" height="10.4" fill="#bec8c6" stroke="#262626" stroke-width="0.95"/>
<line x1="322.0" y1="780.2" x2="349.8" y2="780.2" stroke="#262626" stroke-width="0.95"/>
<circle cx="335.7" cy="763.7" r="2.15" fill="#c6d0ce" stroke="#262626" stroke-width="0.88"/>
<circle cx="333.3" cy="774.8" r="2.15" fill="#c6d0ce" stroke="#262626" stroke-width="0.88"/>
<circle cx="338.1" cy="775.1" r="2.15" fill="#c6d0ce" stroke="#262626" stroke-width="0.88"/>
<circle cx="333.3" cy="777.6" r="2.15" fill="#c6d0ce" stroke="#262626" stroke-width="0.88"/>
<circle cx="328.4" cy="785.2" r="2.15" fill="#c6d0ce" stroke="#262626" stroke-width="0.88"/>
<circle cx="333.3" cy="784.4" r="2.15" fill="#c6d0ce" stroke="#262626" stroke-width="0.88"/>
<circle cx="338.1" cy="785.2" r="2.15" fill="#c6d0ce" stroke="#262626" stroke-width="0.88"/>
<circle cx="343.1" cy="784.4" r="2.15" fill="#c6d0ce" stroke="#262626" stroke-width="0.88"/>
<line x1="387.2" y1="711.3" x2="387.2" y2="770.5" stroke="#262626" stroke-width="0.85"/>
<line x1="378.7" y1="711.3" x2="395.7" y2="711.3" stroke="#262626" stroke-width="0.85"/>
<line x1="378.7" y1="770.5" x2="395.7" y2="770.5" stroke="#262626" stroke-width="0.85"/>
<rect x="373.5" y="716.3" width="27.7" height="23.3" fill="#d8766a" stroke="#262626" stroke-width="0.95"/>
<line x1="373.5" y1="727.4" x2="401.2" y2="727.4" stroke="#262626" stroke-width="0.95"/>
<circle cx="387.3" cy="711.0" r="2.15" fill="#dc786b" stroke="#262626" stroke-width="0.88"/>
<circle cx="387.3" cy="714.1" r="2.15" fill="#dc786b" stroke="#262626" stroke-width="0.88"/>
<circle cx="384.8" cy="723.7" r="2.15" fill="#dc786b" stroke="#262626" stroke-width="0.88"/>
<circle cx="389.8" cy="722.5" r="2.15" fill="#dc786b" stroke="#262626" stroke-width="0.88"/>
<circle cx="387.3" cy="731.2" r="2.15" fill="#dc786b" stroke="#262626" stroke-width="0.88"/>
<circle cx="387.3" cy="735.7" r="2.15" fill="#dc786b" stroke="#262626" stroke-width="0.88"/>
<circle cx="387.3" cy="741.6" r="2.15" fill="#dc786b" stroke="#262626" stroke-width="0.88"/>
<circle cx="387.3" cy="770.4" r="2.15" fill="#dc786b" stroke="#262626" stroke-width="0.88"/>
<polyline points="336.0,704.1 336.0,700.3 387.5,700.3 387.5,704.1" fill="none" stroke="#2e2e2e" stroke-width="0.9"/>
<path d="M355.63,694.65 L355.37,692.2 L356.53,692.2 L356.27,694.65Z M355.76,694.28 L358.01,693.27 L358.36,694.38 L355.95,694.89Z M356.15,694.28 L357.8,696.11 L356.86,696.79 L355.63,694.66Z M356.27,694.66 L355.04,696.79 L354.1,696.11 L355.75,694.28Z M355.95,694.89 L353.54,694.38 L353.89,693.27 L356.14,694.28Z" fill="#222"/>
<circle cx="355.95" cy="694.55" r="0.8" fill="#222"/>
<path d="M361.68,694.65 L361.42,692.2 L362.58,692.2 L362.32,694.65Z M361.81,694.28 L364.06,693.27 L364.41,694.38 L362.0,694.89Z M362.2,694.28 L363.85,696.11 L362.91,696.79 L361.68,694.66Z M362.32,694.66 L361.09,696.79 L360.15,696.11 L361.8,694.28Z M362.0,694.89 L359.59,694.38 L359.94,693.27 L362.19,694.28Z" fill="#222"/>
<circle cx="362.0" cy="694.55" r="0.8" fill="#222"/>
<path d="M367.73,694.65 L367.47,692.2 L368.63,692.2 L368.37,694.65Z M367.86,694.28 L370.11,693.27 L370.46,694.38 L368.05,694.89Z M368.25,694.28 L369.9,696.11 L368.96,696.79 L367.73,694.66Z M368.37,694.66 L367.14,696.79 L366.2,696.11 L367.85,694.28Z M368.05,694.89 L365.64,694.38 L365.99,693.27 L368.24,694.28Z" fill="#222"/>
<circle cx="368.05" cy="694.55" r="0.8" fill="#222"/>
</svg>
</body></html>
